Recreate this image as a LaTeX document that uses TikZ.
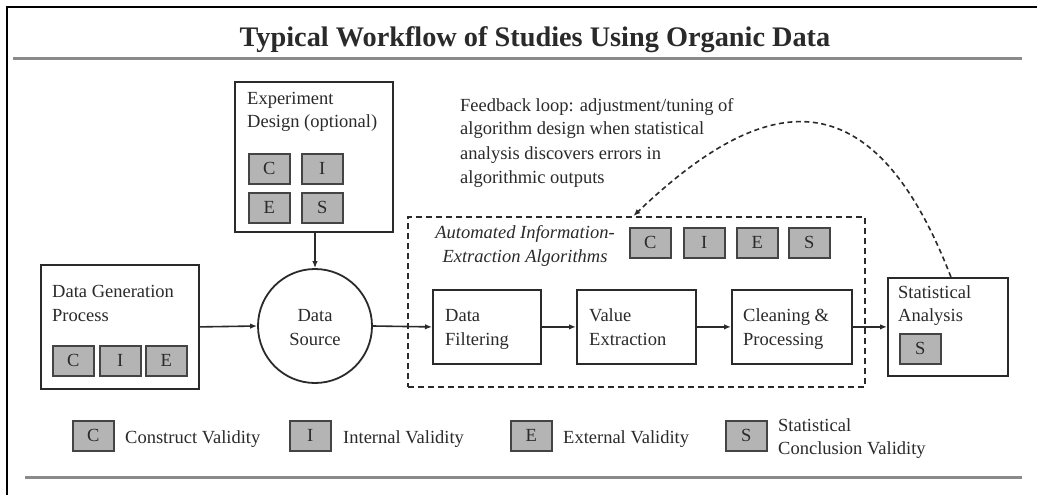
\documentclass[tikz,border=0pt]{standalone}
\usepackage{fontspec}
\setmainfont{Liberation Serif}
\usetikzlibrary{arrows.meta}
\definecolor{ink}{HTML}{2A2A2A}
\definecolor{sqfill}{HTML}{B4B4B4}
\definecolor{sqline}{HTML}{444444}
\definecolor{rulegray}{HTML}{8A8A8A}
\newcommand\bodyfont{\fontsize{18.5}{24}\selectfont}
\newcommand\titlefont{\fontsize{28.3}{30}\selectfont\bfseries}
\begin{document}
\begin{tikzpicture}[x=1pt,y=-1pt,
  box/.style={draw=ink, line width=1.8pt, fill=white, inner sep=0pt, anchor=north west},
  sq/.style={draw=sqline, fill=sqfill, line width=1.5pt, minimum width=41pt, minimum height=30pt, inner sep=0pt, anchor=north west, font=\bodyfont, text=ink},
  txt/.style={anchor=base west, inner sep=0pt, text=ink, font=\bodyfont},
  ctxt/.style={anchor=base, inner sep=0pt, text=ink, font=\bodyfont},
  itxt/.style={anchor=base, inner sep=0pt, text=ink, font=\bodyfont\itshape},
  arr/.style={draw=ink, line width=1.6pt, -{Latex[length=7pt,width=5.5pt]}},
  dasharr/.style={draw=ink, line width=1.6pt, dash pattern=on 5pt off 3.5pt, -{Latex[length=7pt,width=5.5pt]}},
  grayrule/.style={draw=rulegray, line width=3pt}
]
\useasboundingbox (0,0) rectangle (1037,495);
\fill[white] (0,0) rectangle (1037,495);
% outer frame and rules
\draw[black, line width=2.6pt] (7,495) -- (7,7) -- (1037,7);
\draw[grayrule] (13,59) -- (1022,59);
\draw[grayrule] (25,477) -- (1022,477);
% title
\node[anchor=base, inner sep=0pt, text=ink, font=\titlefont] (title) at (535,47) {Typical Workflow of Studies Using Organic Data};

% dashed algorithm box
\node[draw=ink, line width=1.8pt, dash pattern=on 6pt off 4pt, minimum width=457pt, minimum height=170pt, anchor=north west, inner sep=0pt] (auto) at (407,216) {};
\node[itxt] (autoT1) at (525,238) {Automated Information-};
\node[itxt] (autoT2) at (525,262) {Extraction Algorithms};
\node[sq] (aC) at (629,227) {C};
\node[sq] (aI) at (683,227) {I};
\node[sq] (aE) at (736,227) {E};
\node[sq] (aS) at (788,227) {S};

% experiment design
\node[box, minimum width=158pt, minimum height=150pt] (exp) at (234,81) {};
\node[txt] (expT1) at (247,104) {Experiment};
\node[txt] (expT2) at (247,128) {Design (optional)};
\node[sq] (eC) at (248,153) {C};
\node[sq] (eI) at (301,153) {I};
\node[sq] (eE) at (248,192) {E};
\node[sq] (eS) at (301,192) {S};

% data generation process
\node[box, minimum width=158pt, minimum height=124pt] (gen) at (40,264) {};
\node[txt] (genT1) at (52,297) {Data Generation};
\node[txt] (genT2) at (52,321) {Process};
\node[sq] (gC) at (52,345) {C};
\node[sq] (gI) at (99,345) {I};
\node[sq] (gE) at (145,345) {E};

% data source
\node[draw=ink, line width=1.8pt, circle, minimum size=114pt, inner sep=0pt, fill=white] (src) at (315,326) {};
\node[ctxt] (srcT1) at (315,321) {Data};
\node[ctxt] (srcT2) at (315,345) {Source};

% pipeline boxes
\node[box, minimum width=108pt, minimum height=74pt] (filt) at (432,289) {};
\node[txt] (filtT1) at (445,321) {Data};
\node[txt] (filtT2) at (445,345) {Filtering};
\node[box, minimum width=119pt, minimum height=74pt] (val) at (576,289) {};
\node[txt] (valT1) at (589,321) {Value};
\node[txt] (valT2) at (589,345) {Extraction};
\node[box, minimum width=120pt, minimum height=74pt] (clean) at (731,289) {};
\node[txt] (cleanT1) at (743,321) {Cleaning \&};
\node[txt] (cleanT2) at (743,345) {Processing};

% statistical analysis
\node[box, minimum width=120pt, minimum height=98pt] (stat) at (887,277) {};
\node[txt] (statT1) at (898,298) {Statistical};
\node[txt] (statT2) at (898,321) {Analysis};
\node[sq] (sS) at (899,333) {S};

% connectors
\draw[arr] (gen.east) -- (src.west);
\draw[arr] (exp.south -| src.north) -- (src.north);
\draw[arr] (src.east) -- (filt.west);
\draw[arr] (filt.east) -- (val.west);
\draw[arr] (val.east) -- (clean.west);
\draw[arr] (clean.east) -- (stat.west);

% feedback loop
\coordinate (fbS) at ([xshift=3pt]stat.north);
\coordinate (fbE) at ([xshift=-3pt]auto.north);
\draw[dasharr] (fbS) .. controls (868,62) and (755,100) .. (fbE);
\node[txt] (fbT1) at (460,111) {Feedback loop: adjustment/tuning of};
\node[txt] (fbT2) at (460,135) {algorithm design when statistical};
\node[txt] (fbT3) at (460,159) {analysis discovers errors in};
\node[txt] (fbT4) at (460,183) {algorithmic outputs};

% legend
\node[sq] (lC) at (72,420) {C};
\node[txt] (lCT) at (125,443) {Construct Validity};
\node[sq] (lI) at (289,420) {I};
\node[txt] (lIT) at (343,443) {Internal Validity};
\node[sq] (lE) at (510,420) {E};
\node[txt] (lET) at (563,443) {External Validity};
\node[sq] (lS) at (725,420) {S};
\node[txt] (lST1) at (778,431) {Statistical};
\node[txt] (lST2) at (778,454) {Conclusion Validity};
\end{tikzpicture}
\end{document}
